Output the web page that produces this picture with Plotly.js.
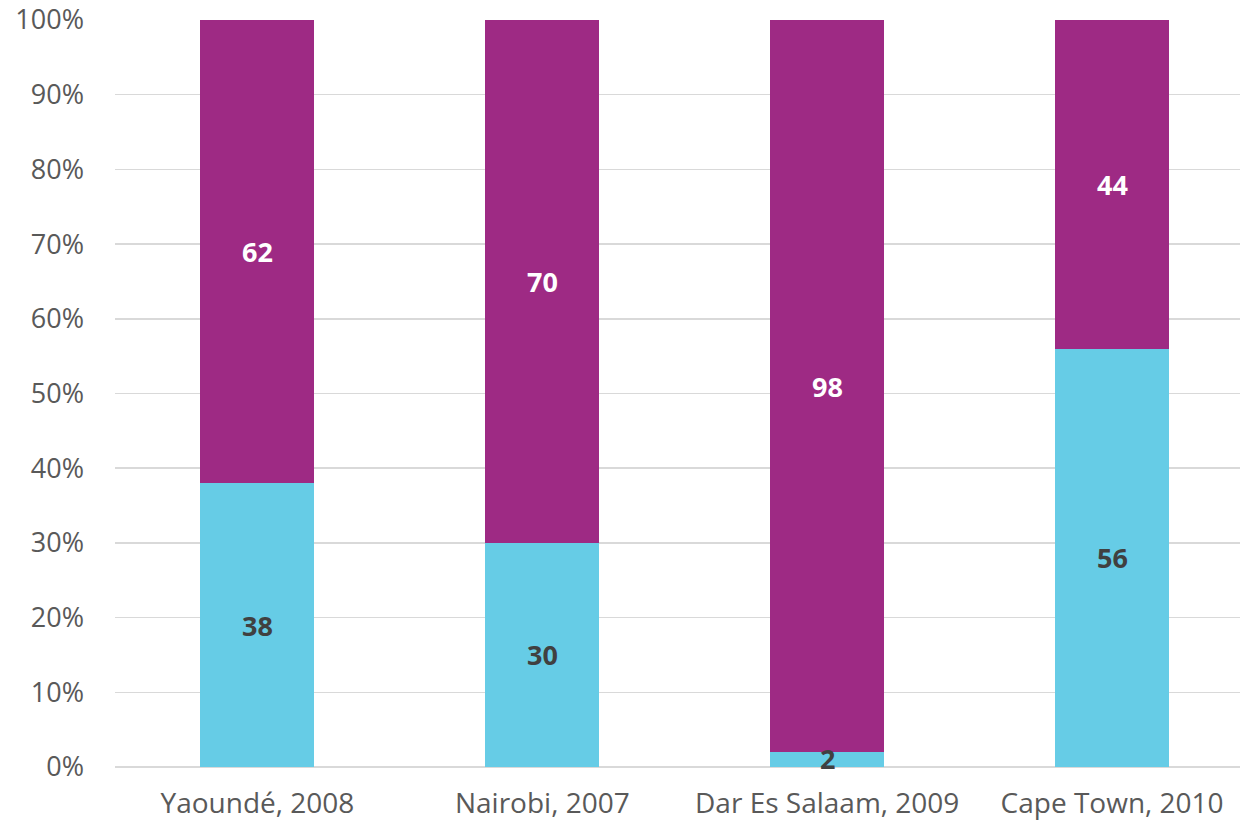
<!DOCTYPE html>
<html><head><meta charset="utf-8">
<script src="https://cdn.plot.ly/plotly-3.0.1.min.js"></script>
<style>body{margin:0;background:#fff}#chart{width:1240px;height:824px}</style>
</head><body><div id="chart"></div>
<script>
const categories = ["Yaoundé, 2008", "Nairobi, 2007", "Dar Es Salaam, 2009", "Cape Town, 2010"];
const lowerValues = [38, 30, 2, 56];
const upperValues = [62, 70, 98, 44];
const yTickVals = [0, 10, 20, 30, 40, 50, 60, 70, 80, 90, 100];
const yTickText = ["0%", "10%", "20%", "30%", "40%", "50%", "60%", "70%", "80%", "90%", "100%"];

const cyan = "#66CCE6", purple = "#9E2A84";
const font = "'Open Sans', Lato, sans-serif";

const traces = [
  {type: "bar", x: categories, y: lowerValues, marker: {color: cyan}, width: 0.4, hoverinfo: "none"},
  {type: "bar", x: categories, y: upperValues, marker: {color: purple}, width: 0.4, hoverinfo: "none"}
];

const annotations = [];
categories.forEach((c, i) => {
  annotations.push({x: c, y: lowerValues[i] / 2, text: "<b>" + lowerValues[i] + "</b>", showarrow: false,
    font: {family: font, size: 27, color: "#404040"}, yshift: lowerValues[i] < 5 ? 1 : 0});
  annotations.push({x: c, y: lowerValues[i] + upperValues[i] / 2, text: "<b>" + upperValues[i] + "</b>", showarrow: false,
    font: {family: font, size: 27, color: "#ffffff"}});
});

const layout = {
  width: 1240, height: 824,
  margin: {l: 115, r: 0, t: 20, b: 57},
  barmode: "stack",
  showlegend: false,
  paper_bgcolor: "#fff", plot_bgcolor: "#fff",
  font: {family: font, color: "#595959", size: 28},
  xaxis: {
    type: "category", range: [-0.5, 3.449],
    showgrid: false, zeroline: false, showline: false, ticks: "",
    ticklabelstandoff: 17,
    tickfont: {family: font, size: 28, color: "#595959"}
  },
  yaxis: {
    range: [0, 100], tickvals: yTickVals, ticktext: yTickText,
    showgrid: true, gridcolor: "#D9D9D9", gridwidth: 1.5,
    zeroline: true, zerolinecolor: "#D9D9D9", zerolinewidth: 1.5,
    showline: false, ticks: "", ticklabelstandoff: 30,
    tickfont: {family: font, size: 27, color: "#595959"}
  },
  annotations: annotations
};

Plotly.newPlot("chart", traces, layout, {displayModeBar: false, staticPlot: true});
</script></body></html>
